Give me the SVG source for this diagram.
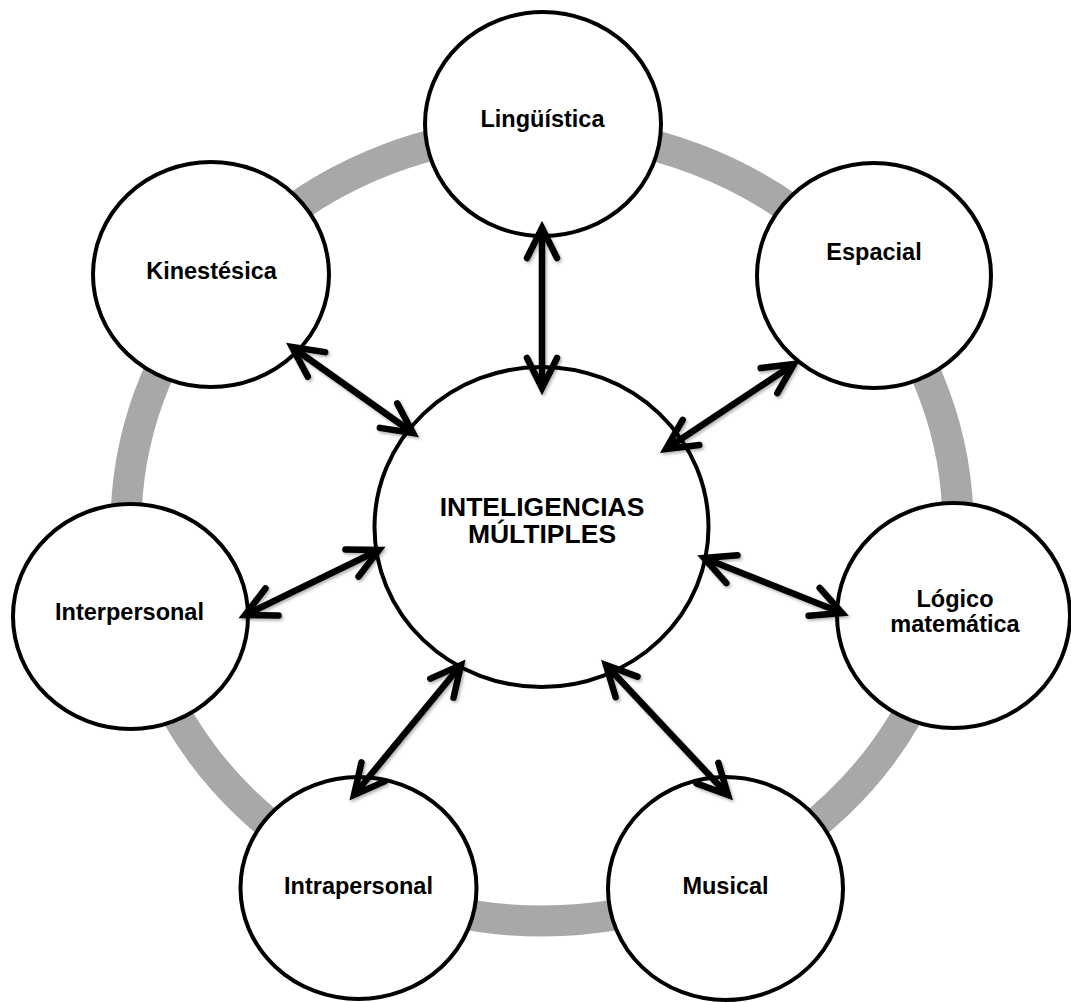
<svg xmlns="http://www.w3.org/2000/svg" width="1071" height="1002" viewBox="0 0 1071 1002">
  <style>
    .node { fill: #ffffff; stroke: #000000; stroke-width: 4; }
    .lbl { font-family: "Liberation Sans", Arial, sans-serif; font-weight: bold; font-size: 23.5px; fill: #000000; text-anchor: middle; }
    .big { font-size: 26.5px; }
    .conn { stroke: #000000; stroke-width: 6.5; fill: none; marker-start: url(#ah); marker-end: url(#ah); }
  </style>
  <defs>
    <marker id="ah" markerUnits="userSpaceOnUse" viewBox="-40 -22 48 44" refX="0" refY="0" markerWidth="48" markerHeight="44" orient="auto-start-reverse" overflow="visible">
      <path d="M -30 -15 L 0 0 L -30 15" fill="none" stroke="#000000" stroke-width="6.5" stroke-linecap="round" stroke-linejoin="miter" stroke-miterlimit="10"/>
    </marker>
    <filter id="sh" filterUnits="userSpaceOnUse" x="0" y="0" width="1071" height="1002">
      <feDropShadow dx="1.5" dy="2" stdDeviation="1.8" flood-color="#000000" flood-opacity="0.3"/>
    </filter>
  </defs>

  <ellipse id="ring" cx="542" cy="526" rx="416" ry="395" fill="none" stroke="#a8a8a8" stroke-width="31"/>

  <g id="node-linguistica">
    <ellipse class="node" cx="543" cy="124" rx="118" ry="112"/>
    <text class="lbl" x="542.5" y="127">Lingüística</text>
  </g>
  <g id="node-espacial">
    <ellipse class="node" cx="874" cy="275.5" rx="117" ry="112.5"/>
    <text class="lbl" x="874" y="260">Espacial</text>
  </g>
  <g id="node-logico">
    <ellipse class="node" cx="953.5" cy="615.5" rx="116.5" ry="112.5"/>
    <text class="lbl" x="955" y="606.5">Lógico</text>
    <text class="lbl" x="955" y="631.5">matemática</text>
  </g>
  <g id="node-musical">
    <ellipse class="node" cx="725.5" cy="888.5" rx="117.5" ry="111.5"/>
    <text class="lbl" x="725.5" y="894">Musical</text>
  </g>
  <g id="node-intrapersonal">
    <ellipse class="node" cx="358.5" cy="888" rx="118" ry="111"/>
    <text class="lbl" x="358.5" y="894">Intrapersonal</text>
  </g>
  <g id="node-interpersonal">
    <ellipse class="node" cx="130.5" cy="616.5" rx="117.5" ry="112.5"/>
    <text class="lbl" x="129.5" y="620">Interpersonal</text>
  </g>
  <g id="node-kinestesica">
    <ellipse class="node" cx="211" cy="274.5" rx="118" ry="112.5"/>
    <text class="lbl" x="211.5" y="279">Kinestésica</text>
  </g>
  <g id="node-center">
    <ellipse class="node" cx="541.5" cy="527" rx="167" ry="160"/>
    <text class="lbl big" x="542" y="516">INTELIGENCIAS</text>
    <text class="lbl big" x="542" y="543">MÚLTIPLES</text>
  </g>

  <g id="connectors" filter="url(#sh)">
    <line class="conn" x1="542" y1="388" x2="542" y2="228"/>
    <line class="conn" x1="413" y1="433" x2="292" y2="347"/>
    <line class="conn" x1="666" y1="449" x2="794" y2="364"/>
    <line class="conn" x1="704" y1="558" x2="842" y2="613"/>
    <line class="conn" x1="606" y1="665" x2="728" y2="795"/>
    <line class="conn" x1="461" y1="665" x2="354" y2="795"/>
    <line class="conn" x1="379" y1="550" x2="245" y2="615"/>
  </g>
</svg>
